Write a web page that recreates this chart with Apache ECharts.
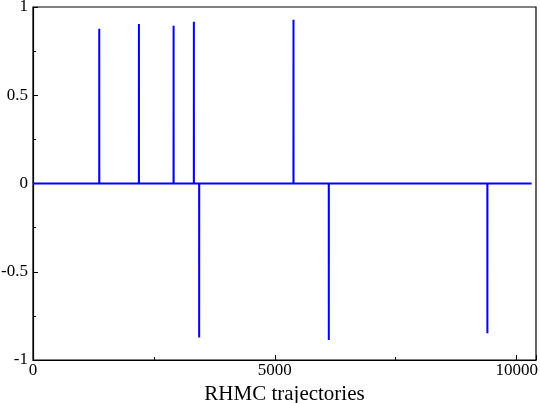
<!DOCTYPE html>
<html>
<head>
<meta charset="utf-8">
<script src="https://cdn.jsdelivr.net/npm/echarts@6/dist/echarts.min.js"></script>
<style>html,body{margin:0;padding:0;background:#fff}#c{width:540px;height:403px}</style>
</head>
<body>
<div id="c"></div>
<script>
// Data
var trajStart = 0;
var trajEnd = 10310;
var spikeX = [1370, 2190, 2907, 3326, 3436, 5386, 6116, 9395];
var spikeY = [0.877, 0.903, 0.894, 0.917, -0.872, 0.928, -0.887, -0.849];
var xTickLabels = ['0', '5000', '10000'];
var yTickLabels = ['-1', '-0.5', '0', '0.5', '1'];

var data = [[trajStart, 0]];
for (var i = 0; i < spikeX.length; i++) {
  data.push([spikeX[i] - 1, 0]);
  data.push([spikeX[i], spikeY[i]]);
  data.push([spikeX[i] + 1, 0]);
}
data.push([trajEnd, 0]);

var font = 'Liberation Serif';
var chart = echarts.init(document.getElementById('c'), null, {renderer: 'canvas'});
chart.setOption({
  animation: false,
  backgroundColor: '#fff',
  grid: {left: 33, right: 4, top: 7, bottom: 43, containLabel: false, outerBoundsMode: 'none',
    show: true, borderColor: '#000', borderWidth: 1.2, backgroundColor: 'transparent'},
  xAxis: {
    type: 'value', min: 0, max: 10400, interval: 5000,
    name: 'RHMC trajectories', nameLocation: 'middle', nameGap: 16,
    nameTextStyle: {fontFamily: font, fontSize: 21, color: '#000'},
    axisLine: {show: true, onZero: false, lineStyle: {color: '#000', width: 1.2}},
    axisTick: {show: true, inside: true, length: 5, lineStyle: {color: '#000'}},
    minorTick: {show: true, splitNumber: 2, length: 3, lineStyle: {color: '#000'}},
    splitLine: {show: false},
    axisLabel: {fontFamily: font, fontSize: 17, color: '#000', margin: 2, showMaxLabel: false,
      formatter: function (v) { var idx = xTickLabels.indexOf(String(v)); return idx >= 0 ? xTickLabels[idx] : ''; }}
  },
  yAxis: {
    type: 'value', min: -1, max: 1, interval: 0.5,
    axisLine: {show: true, onZero: false, lineStyle: {color: '#000', width: 1.2}},
    axisTick: {show: true, inside: true, length: 5, lineStyle: {color: '#000'}},
    minorTick: {show: true, splitNumber: 2, length: 3, lineStyle: {color: '#000'}},
    splitLine: {show: false},
    axisLabel: {fontFamily: font, fontSize: 17, color: '#000', margin: 5,
      formatter: function (v) { var s = String(v); var idx = yTickLabels.indexOf(s); return idx >= 0 ? yTickLabels[idx] : s; }}
  },
  series: [{
    type: 'line', data: data, showSymbol: false, symbol: 'none',
    lineStyle: {color: '#0000ff', width: 2}
  }]
});
</script>
</body>
</html>
